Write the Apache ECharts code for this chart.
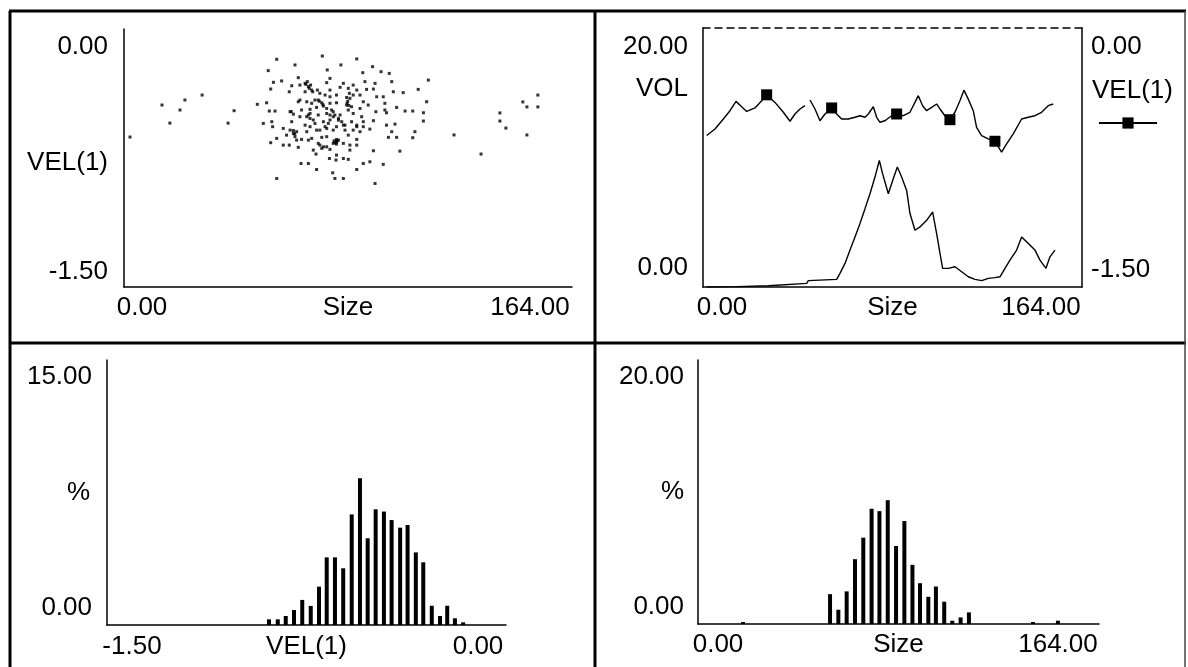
<!DOCTYPE html>
<html>
<head>
<meta charset="utf-8">
<script src="https://cdn.jsdelivr.net/npm/echarts@6/dist/echarts.min.js"></script>
<style>
html,body{margin:0;padding:0;background:#fff;}
#c{width:1188px;height:667px;}
</style>
</head>
<body>
<div id="c"></div>
<script>
// ---------- data ----------
const sizeTicks = ['0.00', '164.00'];
const velTicks = ['-1.50', '0.00'];
const volTicks = ['0.00', '20.00'];
const pct15Ticks = ['0.00', '15.00'];
const pct20Ticks = ['0.00', '20.00'];

// top-left scatter: [Size, VEL(1)]
const scatterPts = [
 [72.6,-0.157],[85.2,-0.174],[55.9,-0.176],[62.6,-0.209],[79.4,-0.209],[74.4,-0.238],[91.0,-0.219],[52.8,-0.242],[94.1,-0.248],[87.4,-0.254],[97.1,-0.258],[63.8,-0.283],[75.4,-0.287],[54.7,-0.310],[57.7,-0.302],[61.4,-0.330],[64.4,-0.326],[67.1,-0.306],[68.3,-0.326],[74.2,-0.312],[80.3,-0.316],[83.9,-0.326],[88.2,-0.306],[91.9,-0.316],[98.0,-0.306],[111.4,-0.297],
 [53.7,-0.349],[60.5,-0.365],[66.3,-0.365],[70.8,-0.355],[75.4,-0.355],[79.1,-0.339],[82.1,-0.345],[85.2,-0.355],[88.8,-0.351],[91.3,-0.349],[98.6,-0.365],[102.2,-0.370],[107.7,-0.351],
 [52.2,-0.429],[48.8,-0.438],[63.8,-0.423],[66.9,-0.423],[71.1,-0.413],[75.4,-0.394],[77.8,-0.384],[82.5,-0.374],[86.4,-0.384],[87.6,-0.423],[92.5,-0.394],[94.9,-0.394],[95.5,-0.432],[99.8,-0.456],[102.9,-0.477],[105.7,-0.477],[110.8,-0.423],[109.6,-0.487],
 [40.3,-0.475],[53.2,-0.477],[55.3,-0.477],[60.8,-0.481],[65.0,-0.471],[68.1,-0.467],[70.5,-0.456],[73.0,-0.448],[75.4,-0.432],[77.8,-0.429],[81.5,-0.442],[83.3,-0.452],[86.4,-0.462],[89.4,-0.442],[92.2,-0.481],[95.5,-0.471],[96.1,-0.487],
 [64.4,-0.510],[68.1,-0.520],[71.1,-0.500],[74.2,-0.491],[76.6,-0.481],[79.1,-0.500],[82.1,-0.471],[83.9,-0.491],[87.0,-0.510],[91.3,-0.533],
 [51.0,-0.549],[54.1,-0.539],[61.4,-0.539],[66.3,-0.559],[69.9,-0.549],[73.0,-0.539],[75.4,-0.529],[77.8,-0.568],[80.3,-0.559],[83.3,-0.539],[85.2,-0.559],[87.6,-0.539],[96.1,-0.559],[99.2,-0.553],[109.6,-0.535],
 [54.4,-0.568],[58.3,-0.578],[60.8,-0.588],[63.2,-0.597],[66.9,-0.597],[71.7,-0.588],[74.2,-0.578],[76.6,-0.588],[80.9,-0.588],[83.9,-0.588],[86.4,-0.597],[90.0,-0.582],[98.0,-0.597],[106.5,-0.597],
 [55.9,-0.636],[59.5,-0.617],[62.6,-0.626],[65.0,-0.642],[68.7,-0.636],[72.4,-0.630],[74.2,-0.626],[77.8,-0.642],[82.1,-0.617],[85.2,-0.642],[96.8,-0.630],[99.8,-0.630],[105.7,-0.632],
 [53.7,-0.661],[58.3,-0.675],[60.5,-0.675],[63.8,-0.688],[67.5,-0.646],[71.7,-0.675],[74.2,-0.685],[77.2,-0.661],[78.5,-0.646],[80.3,-0.665],[82.7,-0.675],[85.2,-0.675],
 [69.3,-0.704],[73.0,-0.685],[75.4,-0.700],[77.8,-0.669],[82.7,-0.704],[91.3,-0.708],[101.0,-0.710],
 [70.3,-0.727],[75.2,-0.753],[77.8,-0.733],[80.3,-0.753],[82.1,-0.758],[67.5,-0.782],[64.8,-0.782],[77.6,-0.762],[87.6,-0.782],[90.0,-0.772],[94.9,-0.787],
 [70.5,-0.817],[85.2,-0.817],[76.4,-0.836],[55.9,-0.869],[77.2,-0.869],[80.3,-0.869],[91.9,-0.898],
 [66.6,-0.322],[67.8,-0.345],[69.1,-0.365],[71.7,-0.374],[73.6,-0.384],[64.4,-0.413],[68.7,-0.432],[69.9,-0.413],[72.4,-0.429],[74.2,-0.462],[76.0,-0.471],[77.2,-0.500],[78.5,-0.520],[79.7,-0.539],[80.9,-0.559],[81.7,-0.432],[82.7,-0.403],[83.9,-0.384],[66.9,-0.510],[69.3,-0.529],[68.1,-0.568],[73.6,-0.568],[74.8,-0.549],[63.2,-0.646],[71.1,-0.665],[72.4,-0.694],[76.6,-0.665],[77.8,-0.656],[62.0,-0.607],[85.2,-0.568],[87.6,-0.568],[70.5,-0.588],
 [75.4,-0.500],[76.6,-0.510],[78.5,-0.530],[68.1,-0.491],[67.5,-0.500],[66.3,-0.316],[67.5,-0.335],[68.7,-0.355],[76.9,-0.650],[78.0,-0.652],[71.5,-0.420],[72.8,-0.440],[81.5,-0.398],[81.9,-0.420],[82.3,-0.445],[61.2,-0.480],[62.0,-0.495],[62.0,-0.590],[62.5,-0.610],
 [2.2,-0.628],[13.9,-0.442],[16.8,-0.547],[20.5,-0.471],[22.3,-0.413],[28.6,-0.384],[38.1,-0.547],[120.8,-0.616],[130.7,-0.727],[137.6,-0.488],[137.6,-0.535],[139.8,-0.576],[146.0,-0.424],[147.5,-0.453],[151.5,-0.384],[151.5,-0.453],[147.5,-0.616]
];

// top-right: VEL(1) line vs Size (null = gap)
const velLineSize = [1.59,5.19,8.80,11.68,14.28,16.73,18.89,22.50,25.38,27.55,31.15,34.76,37.64,39.81,41.97,44.13,45.2,46.29,48.46,50.62,52.79,55.67,57.83,60.00,62.88,65.77,67.93,70.09,71.53,73.70,75.14,76.57,78.74,81.62,83.79,86.67,89.55,91.71,93.16,95.03,96.76,98.94,101.09,102.53,104.69,106.85,109.02,111.18,112.91,114.78,116.95,118.39,120.55,123.44,126.32,129.21,131.37,134.25,137.86,140.74,143.63,146.51,149.39,151.56];
const velLineValue = [-0.623,-0.585,-0.527,-0.479,-0.425,-0.456,-0.483,-0.463,-0.421,-0.387,-0.431,-0.488,-0.540,-0.498,-0.469,-0.450,null,-0.417,-0.469,-0.537,-0.498,-0.463,-0.498,-0.527,-0.527,-0.517,-0.508,-0.517,-0.498,-0.456,-0.517,-0.546,-0.537,-0.508,-0.498,-0.508,-0.488,-0.431,-0.392,-0.450,-0.479,-0.460,-0.440,-0.469,-0.508,-0.531,-0.488,-0.421,-0.360,-0.412,-0.479,-0.575,-0.623,-0.642,-0.656,-0.719,-0.671,-0.613,-0.527,-0.517,-0.508,-0.488,-0.450,-0.440];
const velMarkerIdx = [9, 21, 34, 45, 54];

// top-right: VOL line vs Size
const volLineSize = [1.59,14.57,28.27,28.99,44.86,45.58,57.84,59.28,61.44,63.61,65.77,67.93,70.10,72.26,74.42,76.30,77.74,80.19,82.07,84.09,85.96,88.12,89.57,91.73,93.89,96.78,99.37,101.10,102.55,103.70,106.15,109.03,111.92,114.81,117.69,120.58,123.46,126.34,128.51,130.67,132.83,135.72,137.88,140.77,143.65,145.81,148.41,150.14,152.31];
const volLineValue = [0.0,0.03,0.10,0.21,0.28,0.49,0.59,1.05,1.82,2.85,3.87,4.90,6.05,7.20,8.49,9.77,8.74,7.20,8.23,9.26,8.49,7.46,5.67,4.38,4.64,5.15,5.79,4.13,2.59,1.44,1.44,1.56,1.18,0.79,0.59,0.49,0.67,0.72,0.79,1.44,2.08,2.85,3.87,3.36,2.85,2.08,1.44,2.33,2.85];

// bottom-left histogram of VEL(1)
const velBins = [-0.891,-0.858,-0.828,-0.797,-0.766,-0.734,-0.703,-0.674,-0.643,-0.612,-0.580,-0.549,-0.520,-0.490,-0.459,-0.430,-0.398,-0.370,-0.339,-0.311,-0.279,-0.248,-0.221,-0.192,-0.161];
const velPct = [0.32,0.32,0.51,0.85,1.42,1.08,2.17,3.83,3.83,3.21,6.26,8.30,4.91,6.55,6.42,5.94,5.51,5.66,4.11,3.55,1.09,0.51,1.09,0.38,0.15];

// bottom-right histogram of Size
const sizeBins = [18.4,54.0,57.4,60.8,64.2,67.6,71.0,74.2,77.6,81.0,84.4,87.7,90.8,94.2,97.3,100.7,104.0,107.4,110.8,137.0,147.2];
const sizePct = [0.15,2.26,1.08,2.47,4.91,6.54,8.73,8.55,9.38,5.91,7.80,4.48,3.09,2.06,2.84,1.69,0.25,0.50,0.88,0.15,0.25];

// ---------- styling helpers ----------
const FONT = "'Liberation Sans', Arial, sans-serif";
const FS = 26;
const txt = (extra) => Object.assign({fontFamily: FONT, fontSize: FS, color: '#000'}, extra || {});
const axisLine = {show: true, onZero: false, lineStyle: {color: '#000', width: 1.5}};

function yLabels(ticks, min, padTop, padBot, margin) {
  return {
    show: true, margin: margin,
    formatter: (v) => (Math.abs(v - min) < 1e-9 ? '{lo|' + ticks[0] + '}' : '{hi|' + ticks[1] + '}'),
    rich: {
      lo: txt({padding: [0, 0, padBot, 0]}),
      hi: txt({padding: [padTop, 0, 0, 0]})
    }
  };
}
function xLabels(ticks, min, padL, padR, margin) {
  return {
    show: true, margin: margin,
    formatter: (v) => (Math.abs(v - min) < 1e-9 ? '{lo|' + ticks[0] + '}' : '{hi|' + ticks[1] + '}'),
    rich: {
      lo: txt({padding: [0, 0, 0, padL]}),
      hi: txt({padding: [0, padR, 0, 0]})
    }
  };
}
// axis name shifted vertically through a rich-text token padding
function shiftedName(padTop, padBot) {
  return txt({rich: {n: txt({padding: [padTop, 0, padBot, 0]})}});
}
const noTick = {show: false};
const noSplit = {show: false};

// build series data from arrays
const scatterData = scatterPts.map(p => [p[0], p[1]]);
const velData = velLineSize.map((s, i) => ({
  value: [s, velLineValue[i]],
  symbol: velMarkerIdx.indexOf(i) >= 0 ? 'rect' : 'none'
}));
const volData = volLineSize.map((s, i) => [s, volLineValue[i]]);
const velHist = velBins.map((b, i) => [b, velPct[i]]);
const sizeHist = sizeBins.map((b, i) => [b, sizePct[i]]);

const chart = echarts.init(document.getElementById('c'), null, {renderer: 'canvas'});

const common = {axisTick: noTick, splitLine: noSplit, nameMoveOverlap: false};

const option = {
  animation: false,
  backgroundColor: '#fff',
  textStyle: {fontFamily: FONT, color: '#000'},
  grid: [
    {left: 124, top: 29, width: 448, height: 258, containLabel: false, outerBoundsMode: 'none'},
    {left: 703, top: 28, width: 379, height: 259, containLabel: false, outerBoundsMode: 'none'},
    {left: 107, top: 360, width: 399, height: 265, containLabel: false, outerBoundsMode: 'none'},
    {left: 698, top: 360, width: 401, height: 264, containLabel: false, outerBoundsMode: 'none'}
  ],
  legend: {
    data: ['VEL(1)'], left: 1098, top: 116, padding: 0,
    itemWidth: 58, itemHeight: 14, selectedMode: false,
    formatter: () => '', textStyle: {fontSize: 1}
  },
  xAxis: [
    Object.assign({gridIndex: 0, type: 'value', min: 0, max: 164, interval: 164, position: 'bottom',
     axisLine: axisLine, axisLabel: xLabels(sizeTicks, 0, 36, 84, 8),
     name: 'Size', nameLocation: 'middle', nameGap: 8, nameTextStyle: txt()}, common),
    Object.assign({gridIndex: 1, type: 'value', min: 0, max: 164, interval: 164, position: 'bottom',
     axisLine: axisLine, axisLabel: xLabels(sizeTicks, 0, 38, 82, 8),
     name: 'Size', nameLocation: 'middle', nameGap: 8, nameTextStyle: txt()}, common),
    Object.assign({gridIndex: 1, type: 'value', min: 0, max: 164, interval: 164, position: 'top',
     axisLine: {show: true, onZero: false, lineStyle: {color: '#000', width: 1.5, type: [7, 5]}},
     axisLabel: {show: false}}, common),
    Object.assign({gridIndex: 2, type: 'value', min: -1.5, max: 0, interval: 1.5, position: 'bottom',
     axisLine: axisLine, axisLabel: xLabels(velTicks, -1.5, 50, 56, 9),
     name: 'VEL(1)', nameLocation: 'middle', nameGap: 9, nameTextStyle: txt()}, common),
    Object.assign({gridIndex: 3, type: 'value', min: 0, max: 164, interval: 164, position: 'bottom',
     axisLine: axisLine, axisLabel: xLabels(sizeTicks, 0, 40, 82, 8),
     name: 'Size', nameLocation: 'middle', nameGap: 8, nameTextStyle: txt()}, common)
  ],
  yAxis: [
    Object.assign({gridIndex: 0, type: 'value', min: -1.5, max: 0, interval: 1.5, position: 'left',
     axisLine: axisLine, axisLabel: yLabels(velTicks, -1.5, 36, 30, 16),
     name: '{n|VEL(1)}', nameLocation: 'middle', nameGap: 16, nameRotate: 0,
     nameTextStyle: shiftedName(10, 0)}, common),
    Object.assign({gridIndex: 1, type: 'value', min: 0, max: 20, interval: 20, position: 'left',
     axisLine: axisLine, axisLabel: yLabels(volTicks, 0, 38, 38, 15),
     name: '{n|VOL}', nameLocation: 'middle', nameGap: 15, nameRotate: 0,
     nameTextStyle: shiftedName(0, 138)}, common),
    Object.assign({gridIndex: 1, type: 'value', min: -1.5, max: 0, interval: 1.5, position: 'right',
     axisLine: axisLine, axisLabel: yLabels(velTicks, -1.5, 38, 34, 9),
     name: '{n|VEL(1)}', nameLocation: 'middle', nameGap: 10, nameRotate: 0,
     nameTextStyle: shiftedName(0, 134)}, common),
    Object.assign({gridIndex: 2, type: 'value', min: 0, max: 15, interval: 15, position: 'left',
     axisLine: axisLine, axisLabel: yLabels(pct15Ticks, 0, 34, 34, 15),
     name: '%', nameLocation: 'middle', nameGap: 17, nameRotate: 0, nameTextStyle: txt()}, common),
    Object.assign({gridIndex: 3, type: 'value', min: 0, max: 20, interval: 20, position: 'left',
     axisLine: axisLine, axisLabel: yLabels(pct20Ticks, 0, 34, 34, 14),
     name: '%', nameLocation: 'middle', nameGap: 14, nameRotate: 0, nameTextStyle: txt()}, common)
  ],
  series: [
    {type: 'scatter', name: 'scatter', xAxisIndex: 0, yAxisIndex: 0, data: scatterData,
     symbol: 'rect', symbolSize: 3, itemStyle: {color: '#000'}, silent: true},
    {type: 'line', name: 'VOL', xAxisIndex: 1, yAxisIndex: 1, data: volData,
     symbol: 'none', showSymbol: false, lineStyle: {color: '#000', width: 1.4}, silent: true},
    {type: 'line', name: 'VEL(1)', xAxisIndex: 1, yAxisIndex: 2, data: velData,
     symbol: 'rect', symbolSize: 11, showSymbol: true, connectNulls: false,
     itemStyle: {color: '#000'}, lineStyle: {color: '#000', width: 1.4}, silent: true},
    {type: 'bar', name: 'velHist', xAxisIndex: 3, yAxisIndex: 3, data: velHist,
     barWidth: 4, itemStyle: {color: '#000'}, silent: true},
    {type: 'bar', name: 'sizeHist', xAxisIndex: 4, yAxisIndex: 4, data: sizeHist,
     barWidth: 4, itemStyle: {color: '#000'}, silent: true}
  ],
  graphic: [
    {type: 'line', shape: {x1: 10, y1: 11, x2: 10, y2: 667}, style: {stroke: '#000', lineWidth: 3}},
    {type: 'line', shape: {x1: 9, y1: 11, x2: 1186, y2: 11}, style: {stroke: '#000', lineWidth: 3}},
    {type: 'line', shape: {x1: 595, y1: 11, x2: 595, y2: 667}, style: {stroke: '#000', lineWidth: 3}},
    {type: 'line', shape: {x1: 9, y1: 343, x2: 1186, y2: 343}, style: {stroke: '#000', lineWidth: 3}},
    {type: 'line', shape: {x1: 1185, y1: 11, x2: 1185, y2: 667}, style: {stroke: '#444', lineWidth: 1.5}}
  ]
};
chart.setOption(option);
</script>
</body>
</html>
